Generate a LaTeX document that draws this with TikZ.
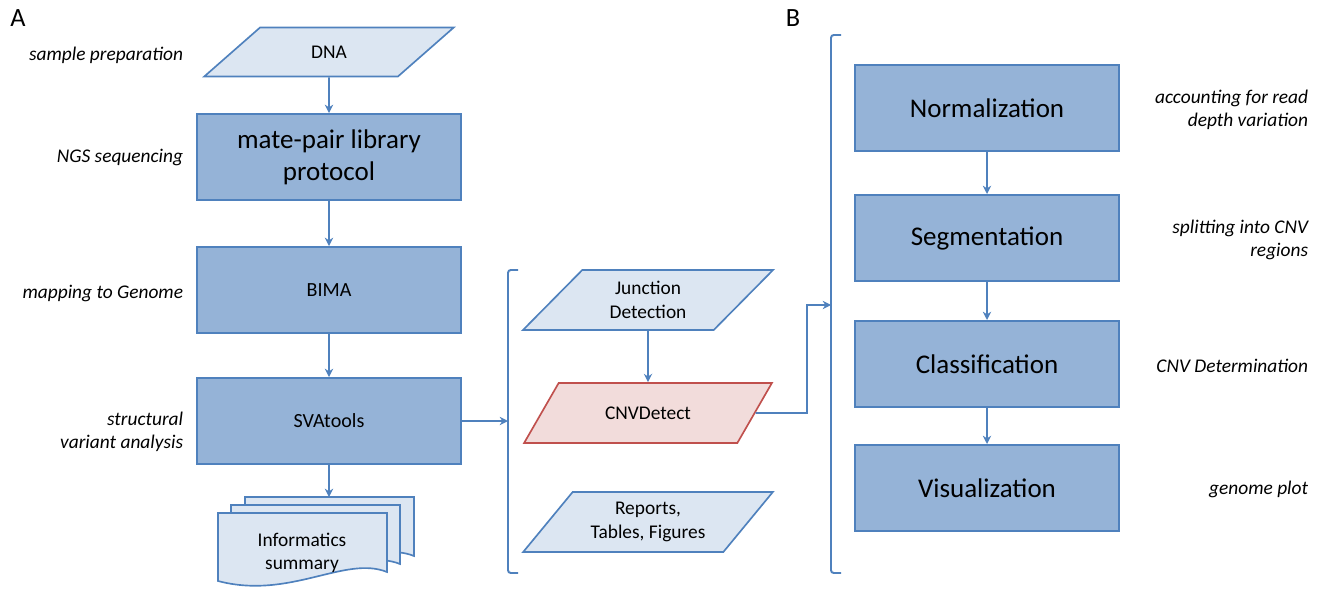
\documentclass[tikz,border=0pt]{standalone}
\usepackage{fontspec}
\setmainfont{Carlito}
\usetikzlibrary{arrows.meta, shapes.geometric}

\definecolor{boxfill}{HTML}{95B3D7}
\definecolor{boxline}{HTML}{4F81BD}
\definecolor{iofill}{HTML}{DCE6F2}
\definecolor{redfill}{HTML}{F2DCDB}
\definecolor{redline}{HTML}{C0504D}

\tikzset{
  stepbox/.style = {draw = boxline, fill = boxfill, line width = 1.4pt,
                    minimum width = 2.64in, minimum height = 0.86in,
                    align = center, font = \fontsize{14.5}{17}\selectfont},
  bigtext/.style = {font = \fontsize{19.5}{23}\selectfont},
  iobox/.style = {trapezium, trapezium left angle = 50, trapezium right angle = 130,
                  trapezium stretches = true, draw = boxline, fill = iofill,
                  line width = 1.2pt, minimum width = 2.5in, minimum height = 0.6in,
                  align = center, font = \fontsize{14}{17}\selectfont},
  docpage/.style = {draw = boxline, fill = iofill, line width = 1.2pt},
  note/.style = {font = \fontsize{14}{17}\selectfont\itshape, align = right, anchor = east},
  flow/.style = {draw = boxline, line width = 1.4pt, -{Stealth[length = 6pt, width = 6pt]}},
  brack/.style = {draw = boxline, line width = 1.4pt, rounded corners = 2pt},
  panel/.style = {font = \fontsize{19}{22}\selectfont},
}

\begin{document}
\begin{tikzpicture}[x = 0.01in, y = -0.01in]

\useasboundingbox (0, 0) rectangle (1332, 589);

% panel A
\node[panel] (lblA) at (18, 18) {A};
\node[panel] (lblB) at (793, 18) {B};

\node[note] (prep) at (188, 55) {sample preparation};
\node[note] (ngs) at (188, 157) {NGS sequencing};
\node[note] (mapg) at (188, 293) {mapping to Genome};
\node[note] (svan) at (188, 432) {structural\\variant analysis};

\node[iobox, minimum height = 0.49in] (dna) at (329, 52) {DNA};
\node[stepbox, bigtext] (matepair) at (329, 157) {mate-pair library\\protocol};
\node[stepbox] (bima) at (329, 290) {BIMA};
\node[stepbox] (svatools) at (329, 421) {SVAtools};

% stacked report pages
\draw[docpage, shift = {(27, -16)}] (218, 513) -- (387, 513) -- (387, 572)
  .. controls (345, 555) and (290, 600) .. (218, 581) -- cycle;
\draw[docpage, shift = {(13, -8)}] (218, 513) -- (387, 513) -- (387, 572)
  .. controls (345, 555) and (290, 600) .. (218, 581) -- cycle;
\draw[docpage] (218, 513) -- (387, 513) -- (387, 572)
  .. controls (345, 555) and (290, 600) .. (218, 581) -- cycle;
\coordinate (infotop) at (329, 497);
\node[align = center, font = \fontsize{14}{17}\selectfont] (info) at (302, 553) {Informatics\\summary};

\draw[flow] (dna) -- (matepair);
\draw[flow] (matepair) -- (bima);
\draw[flow] (bima) -- (svatools);
\draw[flow] (svatools) -- (infotop);

% tools bracket
\coordinate (lbrk) at (508, 421);
\draw[brack] (518, 270) -- (508, 270) -- (508, 573) -- (518, 573);
\draw[flow] (svatools.east) -- (lbrk);

\node[iobox] (junction) at (648, 300) {Junction\\Detection};
\node[iobox, draw = redline, fill = redfill] (cnv) at (648, 413) {CNVDetect};
\node[iobox] (reports) at (648, 522) {Reports,\\Tables, Figures};

\draw[flow] (junction) -- (cnv);

% panel B
\coordinate (rbrk) at (831, 305);
\draw[brack] (841, 35) -- (831, 35) -- (831, 573) -- (841, 573);
\draw[flow] (cnv.east) -- (807, 413) |- (rbrk);

\node[stepbox, bigtext] (norm) at (987, 108) {Normalization};
\node[stepbox, bigtext] (segm) at (987, 238) {Segmentation};
\node[stepbox, bigtext] (classif) at (987, 364) {Classification};
\node[stepbox, bigtext] (visual) at (987, 488) {Visualization};

\draw[flow] (norm) -- (segm);
\draw[flow] (segm) -- (classif);
\draw[flow] (classif) -- (visual);

\node[note] (readd) at (1313, 110) {accounting for read\\depth variation};
\node[note] (split) at (1313, 240) {splitting into CNV\\regions};
\node[note] (cnvdet) at (1313, 366) {CNV Determination};
\node[note] (gplot) at (1313, 489) {genome plot};

\end{tikzpicture}
\end{document}
